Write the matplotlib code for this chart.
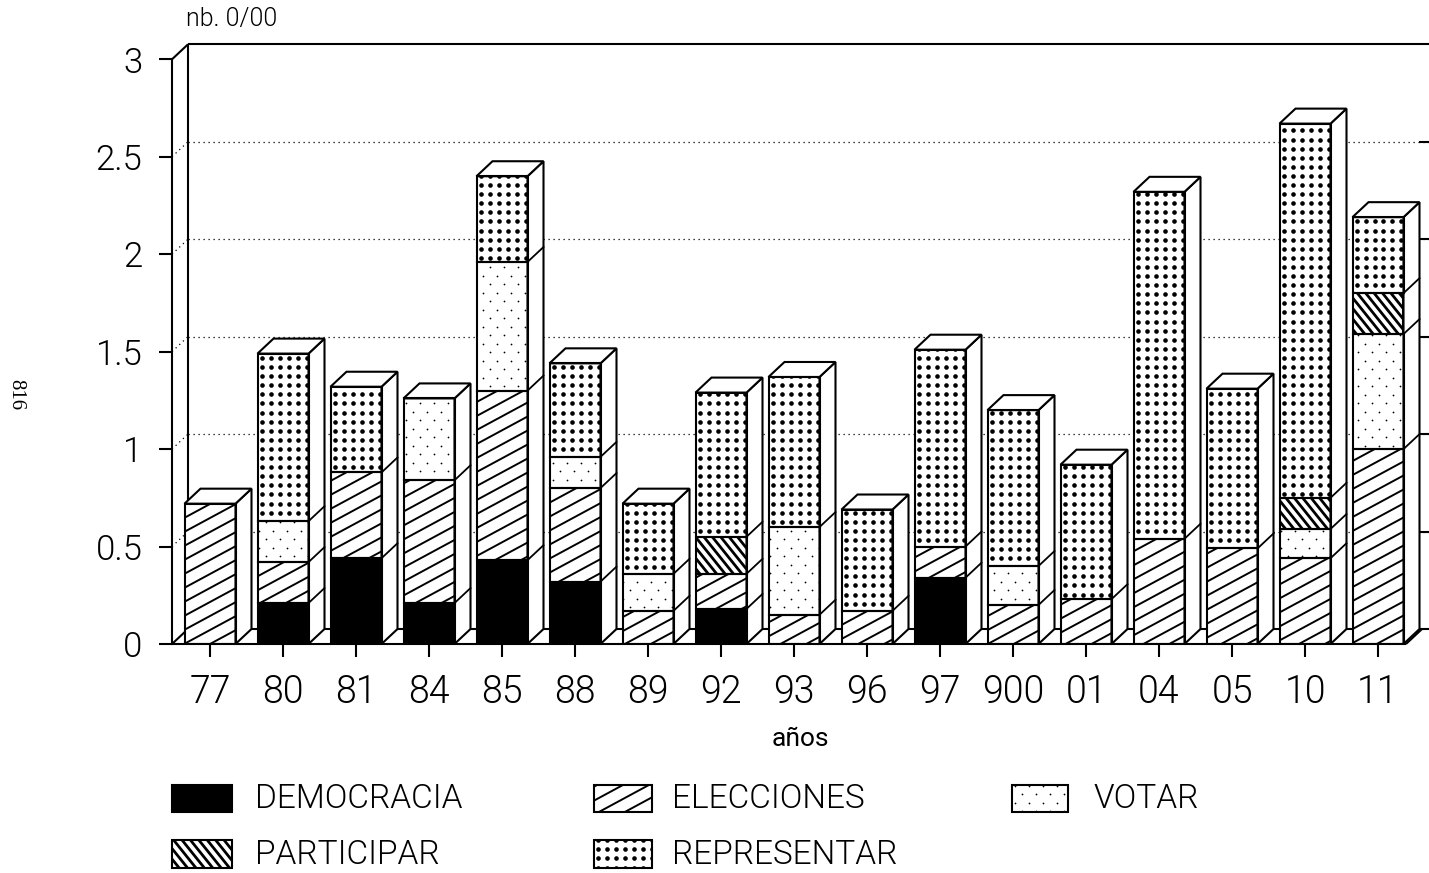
import math
import numpy as np
import matplotlib
matplotlib.use("Agg")
import matplotlib.pyplot as plt
from matplotlib.collections import LineCollection
from matplotlib.patches import Polygon, Rectangle

# ---------------- data (nb. 0/00) ----------------
years = ['77', '80', '81', '84', '85', '88', '89', '92', '93', '96', '97',
         '900', '01', '04', '05', '10', '11']
democracia = [0, 0.21, 0.44, 0.21, 0.43, 0.32, 0, 0.18, 0, 0, 0.34,
              0, 0, 0, 0, 0, 0]
elecciones = [0.72, 0.21, 0.44, 0.63, 0.87, 0.48, 0.17, 0.18, 0.15, 0.17, 0.16,
              0.20, 0.23, 0.54, 0.49, 0.44, 1.00]
votar = [0, 0.21, 0, 0.42, 0.66, 0.16, 0.19, 0, 0.45, 0, 0,
         0.20, 0, 0, 0, 0.15, 0.59]
participar = [0, 0, 0, 0, 0, 0, 0, 0.19, 0, 0, 0,
              0, 0, 0, 0, 0.16, 0.21]
representar = [0, 0.86, 0.44, 0, 0.44, 0.48, 0.36, 0.74, 0.77, 0.52, 1.01,
               0.80, 0.69, 1.78, 0.82, 1.92, 0.39]
series_names = ['DEMOCRACIA', 'ELECCIONES', 'VOTAR', 'PARTICIPAR', 'REPRESENTAR']
ytick_values = [0, 0.5, 1, 1.5, 2, 2.5, 3]
ytick_labels = ['0', '0.5', '1', '1.5', '2', '2.5', '3']

plt.rcParams['font.family'] = ['Roboto', 'Liberation Sans', 'DejaVu Sans']
plt.rcParams['font.weight'] = 300

# ---------------- geometry (pixels) ----------------
W_PX, H_PX = 1429, 873
X0_PX, PXX = 210.0, 73.0           # centre of first bar, pixels per bar
Y0_PX, YTOP_PX = 644.0, 59.3        # baseline, level 3
PXY = (Y0_PX - YTOP_PX) / 3.0
AXL_PX = 172.0
DDX = 16.0 / PXX                     # depth offset in data units
DDY = 15.0 / PXY
BW = 51.0 / PXX

fig = plt.figure(figsize=(W_PX / 100, H_PX / 100), dpi=100)
ax = fig.add_axes([AXL_PX / W_PX, (H_PX - Y0_PX) / H_PX,
                   (W_PX - AXL_PX) / W_PX, (Y0_PX - YTOP_PX) / H_PX])
XL = (AXL_PX - X0_PX) / PXX
XR = (W_PX - X0_PX) / PXX
XFR = (1406 - X0_PX) / PXX
ax.set_xlim(XL, XR)
ax.set_ylim(0, 3)


def px2d(xp, yp):
    return (xp - X0_PX) / PXX, (Y0_PX - yp) / PXY


# ---------------- textures ----------------
def tex_lines(rect, slope_px, sp_px, lw, z):
    x0, y0 = rect.get_x(), rect.get_y()
    x1, y1 = x0 + rect.get_width(), y0 + rect.get_height()
    s = slope_px * PXX / PXY
    sp = sp_px / PXY
    c = [y0 - s * x0, y0 - s * x1, y1 - s * x0, y1 - s * x1]
    k0, k1 = math.floor(min(c) / sp) - 1, math.ceil(max(c) / sp) + 1
    segs = [[(x0, k * sp + s * x0), (x1, k * sp + s * x1)] for k in range(k0, k1 + 1)]
    lc = LineCollection(segs, colors='black', linewidths=lw, zorder=z,
                        capstyle='butt')
    ax.add_collection(lc, autolim=False)
    lc.set_clip_path(rect)


def tex_bigdots(rect, z):
    x0, y0 = rect.get_x(), rect.get_y()
    x1, y1 = x0 + rect.get_width(), y0 + rect.get_height()
    wpx = (x1 - x0) * PXX
    cols = [x0 + (4 + 9.0 * j) / PXX for j in range(int(wpx // 9) + 2)
            if 4 + 9.0 * j <= wpx + 1]
    kmin = math.floor((y0 * PXY - 4) / 9.1) - 1
    kmax = math.ceil((y1 * PXY - 4) / 9.1) + 1
    rows = [(4 + 9.1 * k) / PXY for k in range(kmin, kmax + 1)]
    rows = [r for r in rows if y0 - 1 / PXY <= r <= y1 + 1 / PXY]
    if not rows:
        return
    xx, yy = np.meshgrid(cols, rows)
    sc = ax.scatter(xx.ravel(), yy.ravel(), s=11, c='black', linewidths=0,
                    zorder=z, marker='o')
    sc.set_clip_path(rect)


def tex_smalldots(rect, z):
    x0, y0 = rect.get_x(), rect.get_y()
    x1, y1 = x0 + rect.get_width(), y0 + rect.get_height()
    px0, px1 = x0 * PXX + X0_PX, x1 * PXX + X0_PX
    py0, py1 = y0 * PXY, y1 * PXY
    pts = []
    for k in range(math.floor(py0 / 8.5) - 1, math.ceil(py1 / 8.5) + 2):
        yp = 3 + 8.5 * k
        if not (py0 < yp < py1):
            continue
        off = 7.0 if k % 2 else 0.0
        for j in range(math.floor(px0 / 14) - 1, math.ceil(px1 / 14) + 2):
            xp = 14.0 * j + off
            if px0 < xp < px1:
                pts.append(((xp - X0_PX) / PXX, yp / PXY))
    if not pts:
        return
    pts = np.array(pts)
    sc = ax.scatter(pts[:, 0], pts[:, 1], s=1.6, c='black', linewidths=0,
                    zorder=z)
    sc.set_clip_path(rect)


def texture(name, rect, z):
    if name == 'ELECCIONES':
        tex_lines(rect, 0.54, 14.0, 1.4, z)
    elif name == 'PARTICIPAR':
        tex_lines(rect, -1.25, 10.5, 2.0, z)
    elif name == 'VOTAR':
        tex_smalldots(rect, z)
    elif name == 'REPRESENTAR':
        tex_bigdots(rect, z)


faces = {'DEMOCRACIA': 'black'}

# ---------------- back wall, grid and floor ----------------
lk = dict(color='black', lw=1.5, clip_on=False, solid_capstyle='butt')
ax.plot([XL + DDX, XL + DDX], [DDY, 3 + DDY], zorder=1, **lk)
ax.plot([XL + DDX, XR], [3 + DDY, 3 + DDY], zorder=1, **lk)
ax.plot([XL, XL + DDX], [3, 3 + DDY], zorder=1, **lk)
for v in ytick_values[1:-1]:
    ax.plot([XL + DDX, XR], [v + DDY, v + DDY], color='black', lw=0.9,
            ls=(0, (1, 3)), zorder=1, clip_on=False)
    ax.plot([XL, XL + DDX], [v, v + DDY], color='black', lw=0.9,
            ls=(0, (1, 3)), zorder=1, clip_on=False)
    ax.plot([XR - 10 / PXX, XR], [v + DDY, v + DDY], zorder=1, **lk)
ax.plot([XL, XFR], [0, 0], zorder=5, **lk)
ax.plot([XFR, XFR + DDX], [0, DDY], zorder=1, **lk)
ax.plot([XL + DDX, XR], [DDY, DDY], zorder=1, **lk)
ax.plot([XL, XL + DDX], [0, DDY], zorder=1, **lk)

# ---------------- stacked 3-D bars ----------------
x = np.arange(len(years), dtype=float)
data = [np.array(democracia), np.array(elecciones), np.array(votar),
        np.array(participar), np.array(representar)]
bottom = np.zeros(len(years))
for name, vals in zip(series_names, data):
    m = vals > 0
    bars = ax.bar(x[m], vals[m], width=BW, bottom=bottom[m],
                  color=faces.get(name, 'white'), edgecolor='none',
                  linewidth=0, zorder=3)
    for r in bars:
        texture(name, r, 3.5)
    ax.bar(x[m], vals[m], width=BW, bottom=bottom[m], fill=False,
           edgecolor='black', linewidth=1.5, zorder=4)
    bottom = bottom + vals

cum = np.cumsum(np.vstack(data), axis=0)
for i, xi in enumerate(x):
    tot = cum[-1, i]
    xl, xr = xi - BW / 2, xi + BW / 2
    ax.add_patch(Polygon([(xr, 0), (xr + DDX, DDY), (xr + DDX, tot + DDY), (xr, tot)],
                         closed=True, facecolor='white', edgecolor='black',
                         lw=1.5, zorder=3, joinstyle='miter'))
    ax.add_patch(Polygon([(xl, tot), (xl + DDX, tot + DDY), (xr + DDX, tot + DDY), (xr, tot)],
                         closed=True, facecolor='white', edgecolor='black',
                         lw=1.5, zorder=3, joinstyle='miter'))
    levels = sorted(set(np.round(cum[:-1, i], 6)) - {0.0, round(tot, 6)})
    for c in levels:
        ax.plot([xr, xr + DDX], [c, c + DDY], color='black', lw=1.3, zorder=4)

# ---------------- axes / ticks ----------------
for sp in ['top', 'right', 'bottom']:
    ax.spines[sp].set_visible(False)
ax.spines['left'].set_linewidth(1.5)
ax.spines['left'].set_zorder(5)
ax.set_yticks(ytick_values)
ax.set_yticklabels(ytick_labels)
ax.set_xticks(x)
ax.set_xticklabels(years)
ax.tick_params(axis='y', length=9.4, width=1.5, pad=12, labelsize=25,
               direction='out')
ax.tick_params(axis='x', length=9.4, width=1.5, pad=12, labelsize=27,
               direction='out')
ax.set_xlabel('años', fontsize=19, labelpad=11)
ax.patch.set_visible(False)

fig.text(186 / W_PX, 1 - 19 / H_PX, 'nb. 0/00', fontsize=18,
         ha='left', va='center')
fig.text(16 / W_PX, 1 - 395 / H_PX, '816', rotation=-90, fontsize=15,
         family=['Liberation Serif', 'DejaVu Serif'], weight='normal',
         ha='center', va='center')

# ---------------- legend ----------------
leg_boxes = {'DEMOCRACIA': (172, 785, 232, 812), 'ELECCIONES': (594, 785, 652, 812),
             'VOTAR': (1012, 785, 1068, 812), 'PARTICIPAR': (172, 840, 232, 868),
             'REPRESENTAR': (594, 840, 652, 868)}
leg_text_x = {'DEMOCRACIA': 255, 'ELECCIONES': 672, 'VOTAR': 1093,
              'PARTICIPAR': 255, 'REPRESENTAR': 672}
for name in series_names:
    bx0, by0, bx1, by1 = leg_boxes[name]
    (dx0, dy1), (dx1, dy0) = px2d(bx0, by0), px2d(bx1, by1)
    r = Rectangle((dx0, dy0), dx1 - dx0, dy1 - dy0, facecolor=faces.get(name, 'white'),
                  edgecolor='none', clip_on=False, zorder=3)
    ax.add_patch(r)
    texture(name, r, 3.5)
    ax.add_patch(Rectangle((dx0, dy0), dx1 - dx0, dy1 - dy0, fill=False,
                           edgecolor='black', lw=1.5, clip_on=False, zorder=4))
    tx, ty = px2d(leg_text_x[name], (by0 + by1) / 2 + 1)
    ax.text(tx, ty, name, fontsize=24, ha='left', va='center', clip_on=False)

fig.savefig('out.png', dpi=100)
